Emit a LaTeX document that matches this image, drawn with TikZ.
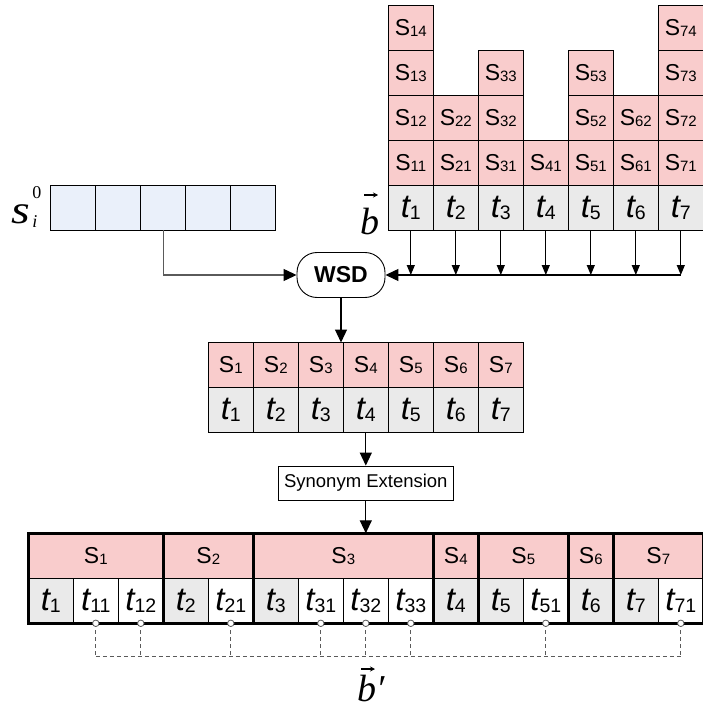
\documentclass[tikz,border=0pt]{standalone}
\usepackage{fontspec}
\setmainfont{Liberation Sans}
\newfontfamily\serifit{Liberation Serif}
\usetikzlibrary{arrows.meta}

\definecolor{senspink}{RGB}{249,204,204}
\definecolor{termgray}{RGB}{234,234,234}
\definecolor{initblue}{RGB}{234,240,250}
\definecolor{linkgray}{RGB}{90,90,90}

% sense label S with a subscript, term label t with a subscript
\newcommand{\Slab}[1]{{\fontsize{23}{23}\selectfont S}{\fontsize{15}{15}\selectfont\raisebox{-1.5pt}{#1}}}
\newcommand{\Tlab}[1]{{\fontsize{33}{33}\selectfont\itshape t}{\fontsize{19.5}{19.5}\selectfont\raisebox{-2pt}{#1}}}

\tikzset{
  cellbase/.style={rectangle, draw=black, line width=0.8pt, minimum width=45pt,
    minimum height=45pt, inner sep=0pt, outer sep=0pt},
  scell/.style={cellbase, fill=senspink},
  tcell/.style={cellbase, fill=termgray},
  bcell/.style={cellbase, fill=initblue},
  conn/.style={line width=1.2pt},
  bigtip/.style={-{Triangle[length=13pt,width=12pt]}},
  smalltip/.style={-{Triangle[length=10pt,width=8pt]}},
  thickedge/.style={line width=2.6pt},
  linkdash/.style={dashed, linkgray, line width=0.8pt, dash pattern=on 4pt off 3pt},
  linkdot/.style={circle, draw=linkgray, fill=white, line width=0.8pt, inner sep=0pt, minimum size=6.5pt},
  mathlab/.style={anchor=base west, inner sep=0pt, text depth=0pt},
}

\begin{document}
\begin{tikzpicture}[x=1pt,y=-1pt]
\useasboundingbox (0,0) rectangle (702,708);

% ---- senses of every term, stacked above the term row ----
\foreach \i/\h in {1/4,2/2,3/3,4/1,5/3,6/2,7/4} {
  \node[tcell] (bt\i) at ({410.8+45*(\i-1)},208) {\Tlab{\i}};
  \foreach \j in {1,...,\h}
    \node[scell] (bs\i\j) at ({410.8+45*(\i-1)},{163.2-45*(\j-1)}) {\Slab{\i\j}};
}
\node[mathlab] (bvec) at (360,235)
  {\serifit\fontsize{38}{38}\selectfont\itshape b};
\draw[line width=1.1pt, -{Stealth[length=5pt,width=5pt]}] (364,195) -- (378,195);

% ---- initial sense vector ----
\foreach \k in {1,...,5}
  \node[bcell] (s\k) at ({73.2+45*(\k-1)},207.7) {};
\node[mathlab] (slab) at (11,223.5)
  {\serifit\fontsize{40}{40}\selectfont\itshape\scalebox{1.2}[1]{s}\kern2.5pt\fontsize{18}{18}\selectfont\rlap{\upshape\raisebox{24.5pt}{0}}\raisebox{-4.5pt}{i}};

% ---- WSD ----
\node[draw, line width=0.9pt, rounded corners=20pt, minimum width=88pt, minimum height=45pt,
  inner sep=0pt, font=\fontsize{23}{23}\selectfont\bfseries] (wsd) at (341,275) {WSD};

\foreach \i in {1,...,7}
  \draw[conn, smalltip] (bt\i.south) -- (bt\i.south |- wsd.east);
\draw[conn, bigtip] (bt7.south |- wsd.east) -- (wsd.east);
\draw[conn, linkgray, -{Triangle[length=13pt,width=12pt,color=black]}] (s3.south) |- (wsd.west);

% ---- disambiguated terms ----
\foreach \i in {1,...,7} {
  \node[scell] (ms\i) at ({230.8+45*(\i-1)},365) {\Slab{\i}};
  \node[tcell] (mt\i) at ({230.8+45*(\i-1)},409.8) {\Tlab{\i}};
}
\draw[conn, bigtip] (wsd.south) -- (wsd.south |- ms1.north);

% ---- synonym extension ----
\node[draw, line width=0.8pt, minimum width=175pt, minimum height=34pt, inner sep=0pt,
  font=\fontsize{18.5}{18.5}\selectfont] (syn) at (365.8,483) {Synonym Extension};
\draw[conn, bigtip] (mt4.south) -- (syn.north);

% ---- extended term vector ----
\foreach \k/\lab/\f in {0/1/termgray,1/11/white,2/12/white,3/2/termgray,4/21/white,
    5/3/termgray,6/31/white,7/32/white,8/33/white,9/4/termgray,10/5/termgray,
    11/51/white,12/6/termgray,13/7/termgray,14/71/white}
  \node[cellbase, fill=\f] (c\k) at ({50.8+45*\k},600.8) {\Tlab{\lab}};

\foreach \g/\a/\b in {1/0/2,2/3/4,3/5/8,4/9/9,5/10/11,6/12/12,7/13/14} {
  \pgfmathsetmacro\grpx{28.3+45*(\a+\b+1)/2}
  \pgfmathsetmacro\grpw{45*(\b-\a+1)}
  \node[scell, minimum width=\grpw pt] (g\g) at (\grpx,555.8) {\Slab{\g}};
}
\draw[conn, bigtip] (syn.south) -- (syn.south |- g3.north);
\foreach \g/\b in {1/2,2/4,3/8,4/9,5/11,6/12,7/14}
  \draw[thickedge] (g\g.north west) rectangle (c\b.south east);

% links between the added synonyms
\foreach \k in {1,2,4,6,7,8,11,14}
  \draw[linkdash] (c\k.south) -- (c\k.south |- 0,656.7);
\draw[linkdash] (c1.south |- 0,656.7) -- (c14.south |- 0,656.7);
\foreach \k in {1,2,4,6,7,8,11,14}
  \node[linkdot] at (c\k.south) {};

\node[mathlab] (bprime) at (357,701)
  {\serifit\fontsize{38}{38}\selectfont\itshape b\char"2032};
\draw[line width=1.1pt, -{Stealth[length=5pt,width=5pt]}] (361,669) -- (375,669);
\end{tikzpicture}
\end{document}
